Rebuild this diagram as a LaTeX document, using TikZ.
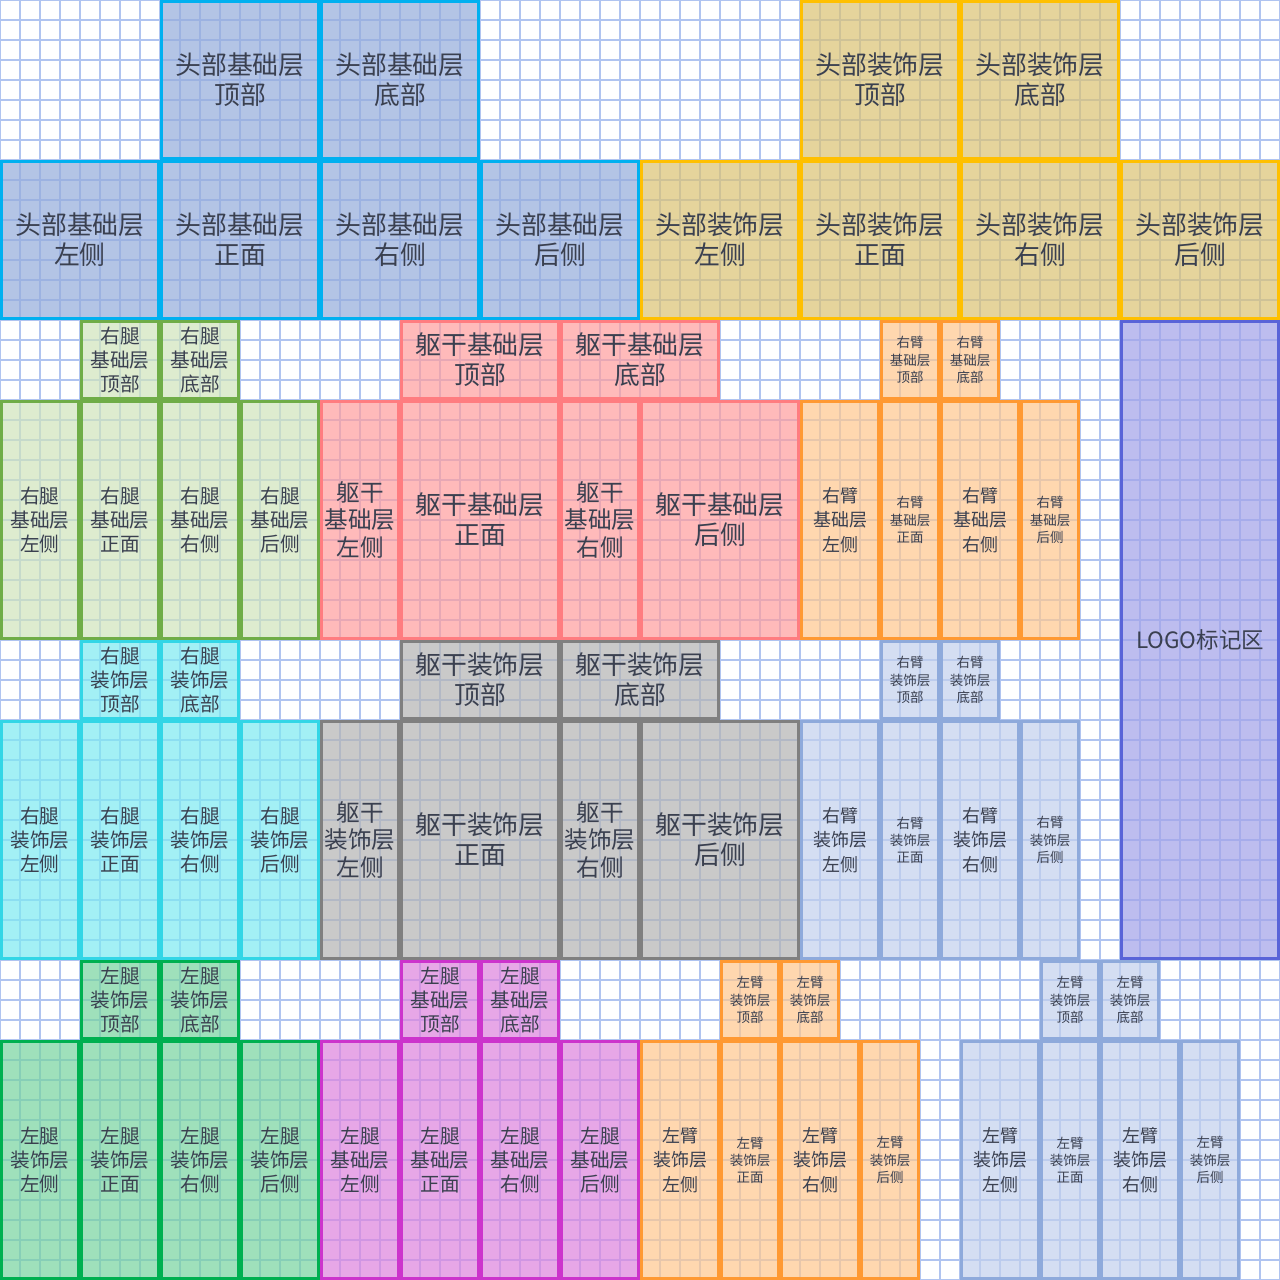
\documentclass[tikz,border=0pt]{standalone}
\usepackage{fontspec}
\setmainfont{Noto Sans CJK SC}
\usepackage{tikz}

\definecolor{txt}{RGB}{58,64,80}
\definecolor{gridc}{RGB}{176,196,240}
\definecolor{hbFill}{RGB}{148,171,219}   \definecolor{hbLine}{RGB}{0,176,240}
\definecolor{hoFill}{RGB}{219,194,114}   \definecolor{hoLine}{RGB}{255,192,0}
\definecolor{rlbFill}{RGB}{208,228,188}  \definecolor{rlbLine}{RGB}{112,173,71}
\definecolor{tbFill}{RGB}{255,157,157}   \definecolor{tbLine}{RGB}{255,124,128}
\definecolor{armFill}{RGB}{255,199,142}  \definecolor{armLine}{RGB}{255,153,51}
\definecolor{logoFill}{RGB}{162,162,233} \definecolor{logoLine}{RGB}{90,100,216}
\definecolor{rloFill}{RGB}{125,234,242}  \definecolor{rloLine}{RGB}{51,214,230}
\definecolor{toFill}{RGB}{179,179,179}   \definecolor{toLine}{RGB}{127,127,127}
\definecolor{raoFill}{RGB}{194,208,237}  \definecolor{raoLine}{RGB}{142,170,219}
\definecolor{lloFill}{RGB}{119,211,159}  \definecolor{lloLine}{RGB}{0,176,80}
\definecolor{llbFill}{RGB}{222,131,222}  \definecolor{llbLine}{RGB}{204,51,204}

\tikzset{
  face/.style={draw, line width=1.2pt, fill opacity=0.7, text opacity=1, draw opacity=1,
    inner sep=0pt, outer sep=0pt, align=center, text=txt},
  sz/.style 2 args={minimum width={#1*0.25cm-1.2pt}, minimum height={#2*0.25cm-1.2pt}},
  hb/.style={face, draw=hbLine, fill=hbFill},
  ho/.style={face, draw=hoLine, fill=hoFill},
  rlb/.style={face, draw=rlbLine, fill=rlbFill},
  tb/.style={face, draw=tbLine, fill=tbFill},
  arm/.style={face, draw=armLine, fill=armFill},
  logo/.style={face, draw=logoLine, fill=logoFill},
  rlo/.style={face, draw=rloLine, fill=rloFill},
  to/.style={face, draw=toLine, fill=toFill},
  rao/.style={face, draw=raoLine, fill=raoFill},
  llo/.style={face, draw=lloLine, fill=lloFill},
  llb/.style={face, draw=llbLine, fill=llbFill},
  big/.style={font=\fontsize{9.2}{10.6}\selectfont},
  side/.style={font=\fontsize{8.4}{9.9}\selectfont},
  leg/.style={font=\fontsize{7}{8.5}\selectfont},
  armw/.style={font=\fontsize{6.4}{8.6}\selectfont},
  armn/.style={font=\fontsize{4.8}{6.1}\selectfont},
}

\begin{document}
\begin{tikzpicture}[x=0.25cm, y=-0.25cm]
\useasboundingbox (0,0) rectangle (64,64);
\fill[white] (0,0) rectangle (64,64);
\foreach \k in {0,...,64} {
  \draw[gridc, line width=0.4pt] (\k,0) -- (\k,64);
  \draw[gridc, line width=0.4pt] (0,\k) -- (64,\k);
}

\node[hb, sz={8}{8}, big] (hbTop) at (12,4) {头部基础层\\顶部};
\node[hb, sz={8}{8}, big] (hbBottom) at (20,4) {头部基础层\\底部};
\node[hb, sz={8}{8}, big] (hbLeft) at (4,12) {头部基础层\\左侧};
\node[hb, sz={8}{8}, big] (hbFront) at (12,12) {头部基础层\\正面};
\node[hb, sz={8}{8}, big] (hbRight) at (20,12) {头部基础层\\右侧};
\node[hb, sz={8}{8}, big] (hbBack) at (28,12) {头部基础层\\后侧};

\node[ho, sz={8}{8}, big] (hoTop) at (44,4) {头部装饰层\\顶部};
\node[ho, sz={8}{8}, big] (hoBottom) at (52,4) {头部装饰层\\底部};
\node[ho, sz={8}{8}, big] (hoLeft) at (36,12) {头部装饰层\\左侧};
\node[ho, sz={8}{8}, big] (hoFront) at (44,12) {头部装饰层\\正面};
\node[ho, sz={8}{8}, big] (hoRight) at (52,12) {头部装饰层\\右侧};
\node[ho, sz={8}{8}, big] (hoBack) at (60,12) {头部装饰层\\后侧};

\node[rlb, sz={4}{4}, leg] (rlbTop) at (6,18) {右腿\\基础层\\顶部};
\node[rlb, sz={4}{4}, leg] (rlbBottom) at (10,18) {右腿\\基础层\\底部};
\node[rlb, sz={4}{12}, leg] (rlbLeft) at (2,26) {右腿\\基础层\\左侧};
\node[rlb, sz={4}{12}, leg] (rlbFront) at (6,26) {右腿\\基础层\\正面};
\node[rlb, sz={4}{12}, leg] (rlbRight) at (10,26) {右腿\\基础层\\右侧};
\node[rlb, sz={4}{12}, leg] (rlbBack) at (14,26) {右腿\\基础层\\后侧};

\node[tb, sz={8}{4}, big] (tbTop) at (24,18) {躯干基础层\\顶部};
\node[tb, sz={8}{4}, big] (tbBottom) at (32,18) {躯干基础层\\底部};
\node[tb, sz={4}{12}, side] (tbLeft) at (18,26) {躯干\\基础层\\左侧};
\node[tb, sz={8}{12}, big] (tbFront) at (24,26) {躯干基础层\\正面};
\node[tb, sz={4}{12}, side] (tbRight) at (30,26) {躯干\\基础层\\右侧};
\node[tb, sz={8}{12}, big] (tbBack) at (36,26) {躯干基础层\\后侧};

\node[arm, sz={3}{4}, armn] (rabTop) at (45.5,18) {右臂\\基础层\\顶部};
\node[arm, sz={3}{4}, armn] (rabBottom) at (48.5,18) {右臂\\基础层\\底部};
\node[arm, sz={4}{12}, armw] (rabLeft) at (42,26) {右臂\\基础层\\左侧};
\node[arm, sz={3}{12}, armn] (rabFront) at (45.5,26) {右臂\\基础层\\正面};
\node[arm, sz={4}{12}, armw] (rabRight) at (49,26) {右臂\\基础层\\右侧};
\node[arm, sz={3}{12}, armn] (rabBack) at (52.5,26) {右臂\\基础层\\后侧};

\node[logo, sz={8}{32}, font=\fontsize{8}{9}\selectfont] (logoArea) at (60,32) {LOGO标记区};

\node[rlo, sz={4}{4}, leg] (rloTop) at (6,34) {右腿\\装饰层\\顶部};
\node[rlo, sz={4}{4}, leg] (rloBottom) at (10,34) {右腿\\装饰层\\底部};
\node[rlo, sz={4}{12}, leg] (rloLeft) at (2,42) {右腿\\装饰层\\左侧};
\node[rlo, sz={4}{12}, leg] (rloFront) at (6,42) {右腿\\装饰层\\正面};
\node[rlo, sz={4}{12}, leg] (rloRight) at (10,42) {右腿\\装饰层\\右侧};
\node[rlo, sz={4}{12}, leg] (rloBack) at (14,42) {右腿\\装饰层\\后侧};

\node[to, sz={8}{4}, big] (toTop) at (24,34) {躯干装饰层\\顶部};
\node[to, sz={8}{4}, big] (toBottom) at (32,34) {躯干装饰层\\底部};
\node[to, sz={4}{12}, side] (toLeft) at (18,42) {躯干\\装饰层\\左侧};
\node[to, sz={8}{12}, big] (toFront) at (24,42) {躯干装饰层\\正面};
\node[to, sz={4}{12}, side] (toRight) at (30,42) {躯干\\装饰层\\右侧};
\node[to, sz={8}{12}, big] (toBack) at (36,42) {躯干装饰层\\后侧};

\node[rao, sz={3}{4}, armn] (raoTop) at (45.5,34) {右臂\\装饰层\\顶部};
\node[rao, sz={3}{4}, armn] (raoBottom) at (48.5,34) {右臂\\装饰层\\底部};
\node[rao, sz={4}{12}, armw] (raoLeft) at (42,42) {右臂\\装饰层\\左侧};
\node[rao, sz={3}{12}, armn] (raoFront) at (45.5,42) {右臂\\装饰层\\正面};
\node[rao, sz={4}{12}, armw] (raoRight) at (49,42) {右臂\\装饰层\\右侧};
\node[rao, sz={3}{12}, armn] (raoBack) at (52.5,42) {右臂\\装饰层\\后侧};

\node[llo, sz={4}{4}, leg] (lloTop) at (6,50) {左腿\\装饰层\\顶部};
\node[llo, sz={4}{4}, leg] (lloBottom) at (10,50) {左腿\\装饰层\\底部};
\node[llo, sz={4}{12}, leg] (lloLeft) at (2,58) {左腿\\装饰层\\左侧};
\node[llo, sz={4}{12}, leg] (lloFront) at (6,58) {左腿\\装饰层\\正面};
\node[llo, sz={4}{12}, leg] (lloRight) at (10,58) {左腿\\装饰层\\右侧};
\node[llo, sz={4}{12}, leg] (lloBack) at (14,58) {左腿\\装饰层\\后侧};

\node[llb, sz={4}{4}, leg] (llbTop) at (22,50) {左腿\\基础层\\顶部};
\node[llb, sz={4}{4}, leg] (llbBottom) at (26,50) {左腿\\基础层\\底部};
\node[llb, sz={4}{12}, leg] (llbLeft) at (18,58) {左腿\\基础层\\左侧};
\node[llb, sz={4}{12}, leg] (llbFront) at (22,58) {左腿\\基础层\\正面};
\node[llb, sz={4}{12}, leg] (llbRight) at (26,58) {左腿\\基础层\\右侧};
\node[llb, sz={4}{12}, leg] (llbBack) at (30,58) {左腿\\基础层\\后侧};

\node[arm, sz={3}{4}, armn] (labTop) at (37.5,50) {左臂\\装饰层\\顶部};
\node[arm, sz={3}{4}, armn] (labBottom) at (40.5,50) {左臂\\装饰层\\底部};
\node[arm, sz={4}{12}, armw] (labLeft) at (34,58) {左臂\\装饰层\\左侧};
\node[arm, sz={3}{12}, armn] (labFront) at (37.5,58) {左臂\\装饰层\\正面};
\node[arm, sz={4}{12}, armw] (labRight) at (41,58) {左臂\\装饰层\\右侧};
\node[arm, sz={3}{12}, armn] (labBack) at (44.5,58) {左臂\\装饰层\\后侧};

\node[rao, sz={3}{4}, armn] (laoTop) at (53.5,50) {左臂\\装饰层\\顶部};
\node[rao, sz={3}{4}, armn] (laoBottom) at (56.5,50) {左臂\\装饰层\\底部};
\node[rao, sz={4}{12}, armw] (laoLeft) at (50,58) {左臂\\装饰层\\左侧};
\node[rao, sz={3}{12}, armn] (laoFront) at (53.5,58) {左臂\\装饰层\\正面};
\node[rao, sz={4}{12}, armw] (laoRight) at (57,58) {左臂\\装饰层\\右侧};
\node[rao, sz={3}{12}, armn] (laoBack) at (60.5,58) {左臂\\装饰层\\后侧};
\end{tikzpicture}
\end{document}
